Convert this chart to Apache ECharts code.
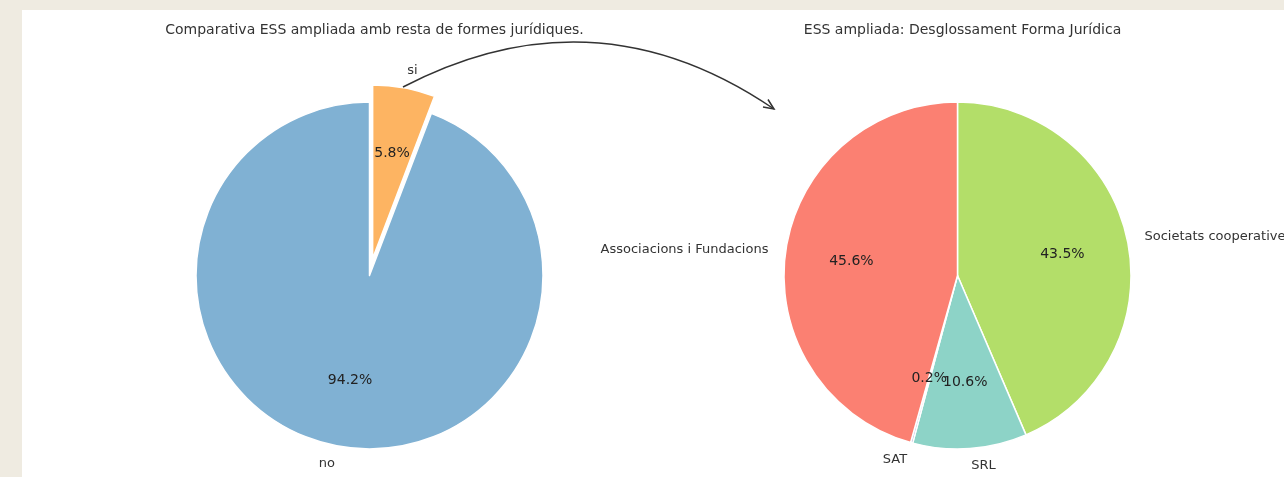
<!DOCTYPE html>
<html>
<head>
<meta charset="utf-8">
<script src="https://cdn.jsdelivr.net/npm/echarts@6/dist/echarts.min.js"></script>
<style>
  html, body { margin: 0; padding: 0; background: #efebe1; }
  #chart { width: 1284px; height: 477px; }
</style>
</head>
<body>
<div id="chart"></div>
<script>
// left pie: ESS ampliada vs resta
const leftNames = ['no', 'si']
const leftValues = [94.2, 5.8]
const leftColors = ['#80b1d3', '#fdb462']

// right pie: desglossament forma jurídica (drawn clockwise from 12 o'clock)
const rightNames = ['Societats cooperatives', 'SRL', 'SAT', 'Associacions i Fundacions']
const rightValues = [43.5, 10.6, 0.2, 45.6]
const rightColors = ['#b3de69', '#8dd3c7', '#bebada', '#fb8072']

const leftTitle = 'Comparativa ESS ampliada amb resta de formes jurídiques.'
const rightTitle = 'ESS ampliada: Desglossament Forma Jurídica'

const R = 173.5
const FONT = 'DejaVu Sans'

const chart = echarts.init(document.getElementById('chart'))

function nameSeries(names, values, colors, center, clockwise, explode) {
  return {
    type: 'pie',
    center: center,
    radius: R,
    startAngle: 90,
    clockwise: clockwise,
    avoidLabelOverlap: false,
    labelLayout: { hideOverlap: false },
    selectedMode: 'single',
    selectedOffset: R * 0.1,
    itemStyle: { borderColor: '#fff', borderWidth: 1.5 },
    emphasis: { disabled: true },
    label: {
      show: true,
      position: 'outside',
      color: '#333',
      fontFamily: FONT,
      fontSize: 13,
      distanceToLabelLine: 0,
      formatter: '{b}'
    },
    labelLine: { show: false, length: R * 0.1, length2: 0 },
    data: names.map((n, i) => ({
      name: n,
      value: values[i],
      selected: explode[i],
      itemStyle: { color: colors[i] }
    }))
  }
}

// transparent copy, twice 0.6 R, so "inside" labels land at 0.6 R like matplotlib
function pctSeries(names, values, center, clockwise, explode) {
  return {
    type: 'pie',
    center: center,
    radius: R * 1.2,
    startAngle: 90,
    clockwise: clockwise,
    silent: true,
    z: 5,
    avoidLabelOverlap: false,
    minShowLabelAngle: 0,
    labelLayout: { hideOverlap: false },
    selectedMode: 'single',
    selectedOffset: R * 0.1,
    itemStyle: { color: 'rgba(0,0,0,0)' },
    label: {
      show: true,
      position: 'inside',
      color: '#222',
      fontFamily: FONT,
      fontSize: 14,
      formatter: p => p.value.toFixed(1) + '%'
    },
    labelLine: { show: false },
    data: names.map((n, i) => ({ name: n, value: values[i], selected: explode[i] }))
  }
}

const leftCenter = [369.5, 275.5]
const rightCenter = [957.5, 275.5]
const leftExplode = [false, true]
const rightExplode = [false, false, false, false]

const titleStyle = { fontFamily: FONT, fontSize: 14, fontWeight: 'normal', color: '#333' }

chart.setOption({
  animation: false,
  backgroundColor: '#efebe1',
  title: [
    { text: leftTitle, left: 369.5, top: 18, textAlign: 'center', textStyle: titleStyle },
    { text: rightTitle, left: 957.5, top: 18, textAlign: 'center', textStyle: titleStyle }
  ],
  graphic: [
    { type: 'rect', z: -10, shape: { x: 22, y: 10, width: 1262, height: 467 }, style: { fill: '#fff' } },
    { type: 'bezierCurve', z: 10,
      shape: { x1: 403, y1: 87, x2: 774, y2: 109, cpx1: 595, cpy1: -13 },
      style: { stroke: '#333', lineWidth: 1.5, fill: null } },
    { type: 'polyline', z: 10,
      shape: { points: [[768, 99.5], [774, 109], [763, 107]] },
      style: { stroke: '#333', lineWidth: 1.5, fill: null } }
  ],
  series: [
    nameSeries(leftNames, leftValues, leftColors, leftCenter, false, leftExplode),
    pctSeries(leftNames, leftValues, leftCenter, false, leftExplode),
    nameSeries(rightNames, rightValues, rightColors, rightCenter, true, rightExplode),
    pctSeries(rightNames, rightValues, rightCenter, true, rightExplode)
  ]
})
</script>
</body>
</html>
